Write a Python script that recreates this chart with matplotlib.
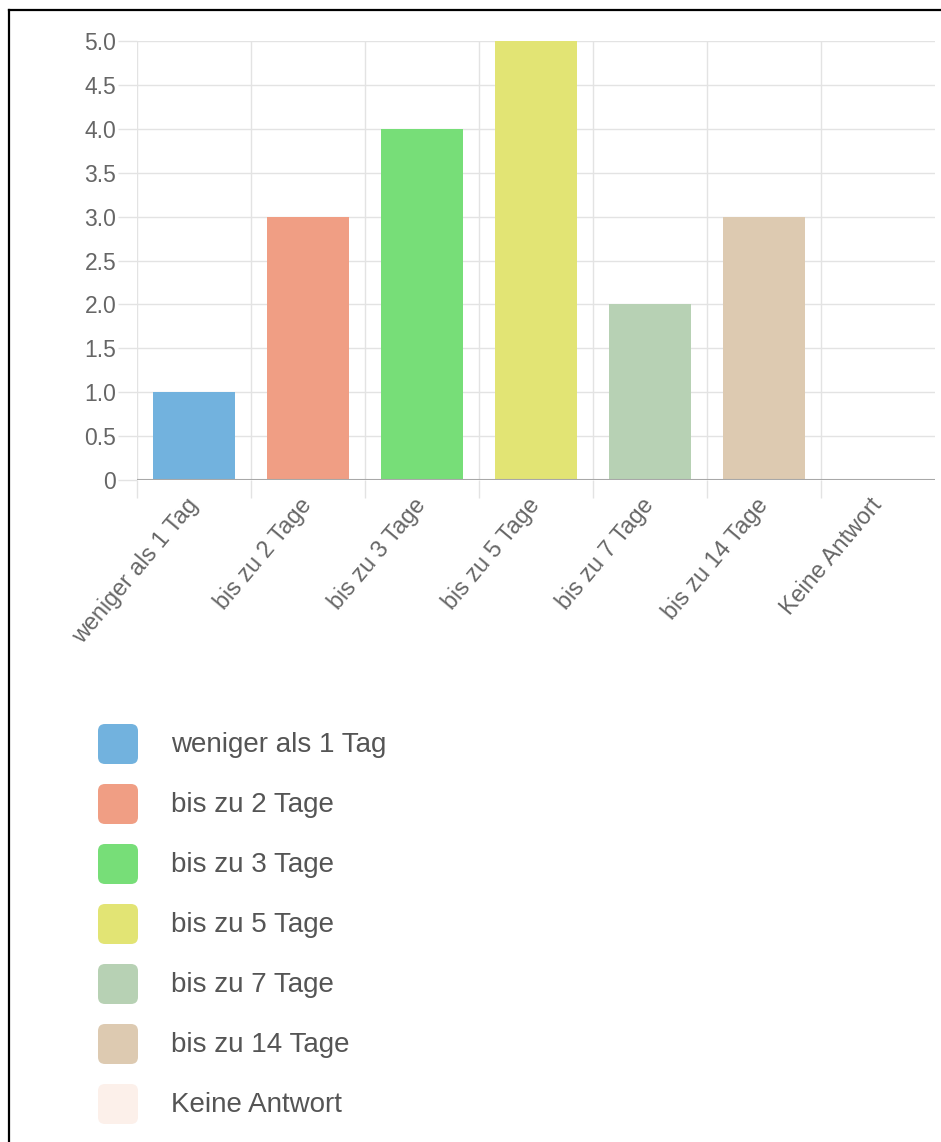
import matplotlib
matplotlib.use("Agg")
import matplotlib.pyplot as plt
from matplotlib.patches import FancyBboxPatch
from matplotlib.lines import Line2D

categories = ["weniger als 1 Tag", "bis zu 2 Tage", "bis zu 3 Tage", "bis zu 5 Tage",
              "bis zu 7 Tage", "bis zu 14 Tage", "Keine Antwort"]
values = [1, 3, 4, 5, 2, 3, 0]
colors = ["#72b2de", "#f09e84", "#77de78", "#e2e474", "#b7d1b4", "#ddcab1", "#fcf0ea"]
yticks = [0, 0.5, 1.0, 1.5, 2.0, 2.5, 3.0, 3.5, 4.0, 4.5, 5.0]
ytick_labels = ["0", "0.5", "1.0", "1.5", "2.0", "2.5", "3.0", "3.5", "4.0", "4.5", "5.0"]

plt.rcParams['font.family'] = ['Liberation Sans', 'DejaVu Sans']

W, H = 941, 1142
fig = plt.figure(figsize=(W / 100, H / 100), dpi=100)
fig.patch.set_facecolor("white")

def fx(px):
    return px / W

def fy(py):
    return 1 - py / H

left, right, top, bottom = 137, 935, 41, 480
ax = fig.add_axes([fx(left), fy(bottom), fx(right) - fx(left), fy(top) - fy(bottom)])

x = list(range(len(categories)))
ax.bar(x, values, width=0.72, color=colors, zorder=2)

ax.set_xlim(-0.5, len(categories) - 0.5)
ax.set_ylim(0, 5)

for s in ax.spines.values():
    s.set_visible(False)

grid_c = "#e3e3e3"
# y axis
ax.set_yticks(yticks)
ax.set_yticklabels(ytick_labels)
ax.tick_params(axis="y", length=14, width=1, color=grid_c, pad=1, labelsize=16.5, labelcolor="#666666")
ax.yaxis.grid(True, color=grid_c, linewidth=1, zorder=0)

# x axis
ax.set_xticks(x)
ax.set_xticklabels(categories, rotation=50, ha="right", va="center", rotation_mode="anchor")
ax.tick_params(axis="x", which="major", length=0, pad=15, labelsize=16.8, labelcolor="#666666")
ax.set_xticks([i - 0.5 for i in x], minor=True)
ax.tick_params(axis="x", which="minor", length=13, width=1, color=grid_c)
ax.xaxis.grid(True, which="minor", color=grid_c, linewidth=1, zorder=0)
ax.set_axisbelow(True)
ax.axhline(0, color="#a8a8a8", linewidth=1.5, zorder=3)

# legend
for i, (cat, col) in enumerate(zip(categories, colors)):
    cy = 744 + 60 * i
    box = FancyBboxPatch((98 + 7, H - (cy + 20) + 7), 40 - 14, 40 - 14,
                         boxstyle="round,pad=7", transform=None,
                         facecolor=col, edgecolor="none")
    fig.patches.append(box)
    fig.text(fx(171), fy(cy + 1), cat, fontsize=20, color="#555555", va="center", ha="left")

# frame
fig.add_artist(Line2D([fx(9), fx(9)], [fy(10), 0], transform=fig.transFigure, color="black", linewidth=1.6))
fig.add_artist(Line2D([fx(9), 1], [fy(10), fy(10)], transform=fig.transFigure, color="black", linewidth=1.6))

fig.savefig("out.png", dpi=100, facecolor="white")
